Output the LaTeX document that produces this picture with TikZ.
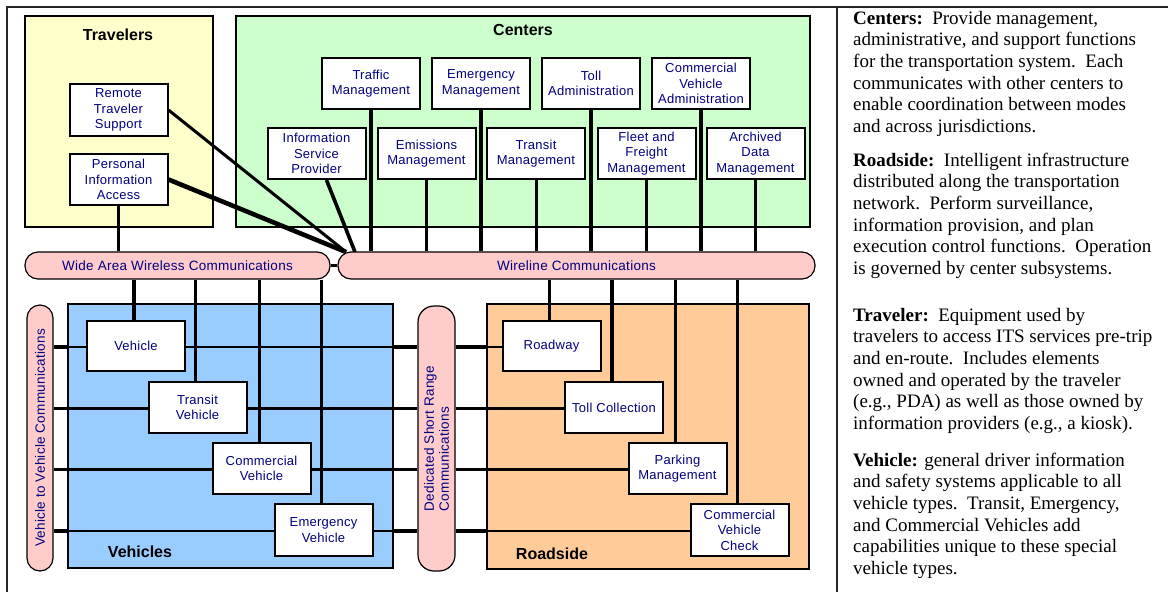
\documentclass[tikz,border=0pt]{standalone}
\usepackage{fontspec}
\setmainfont{Liberation Serif}
\newfontfamily\labf[LetterSpace=2]{Liberation Sans}
\newfontfamily\titf{Liberation Sans}
\usetikzlibrary{calc}
\definecolor{navy}{HTML}{000080}
\definecolor{travfill}{HTML}{FFFFCC}
\definecolor{centfill}{HTML}{CCFFCC}
\definecolor{vehfill}{HTML}{99CCFF}
\definecolor{roadfill}{HTML}{FFCC99}
\definecolor{pillfill}{HTML}{FFCCCC}
\pgfdeclarelayer{back}
\pgfdeclarelayer{conn}
\pgfsetlayers{back,conn,main}
\tikzset{
  box/.style={draw=black,line width=2pt,fill=white,minimum width=98pt,minimum height=51pt,
    inner sep=0pt,align=center,text=navy,font=\labf\fontsize{13}{15.5}\selectfont},
  container/.style={draw=black,line width=2.5pt},
  title/.style={font=\titf\bfseries\fontsize{16}{18}\selectfont,text=black,inner sep=0pt},
  pill/.style={draw=black,line width=1.2pt,fill=pillfill,inner sep=0pt,text=navy,
    font=\labf\fontsize{13.5}{15}\selectfont,rounded corners=13pt},
  bigwire/.style={line width=3.6pt},
  midwire/.style={line width=3pt},
  thinwire/.style={line width=2.2pt},
  fatwire/.style={line width=4.6pt},
  panel/.style={inner sep=0pt,anchor=base west,text=black},
  frame/.style={line width=2pt,draw=black!85}
}
\newcommand{\paneltext}[1]{\vtop{\hsize=320pt\parindent=0pt\parskip=0pt\fontsize{19}{21.7}\selectfont\raggedright #1\par}}
\begin{document}
\begin{tikzpicture}[x=1pt,y=-1pt]
\useasboundingbox (0,0) rectangle (1168,592);
% frame
\draw[frame] (7,592) -- (7,7) -- (1168,7);
\draw[frame] (837,7) -- (837,592);

% containers
\begin{pgfonlayer}{back}
\node[container,fill=travfill,minimum width=188pt,minimum height=211pt] (trav) at (119,121.5) {};
\node[container,fill=centfill,minimum width=574pt,minimum height=211pt] (cent) at (523,121.5) {};
\node[container,fill=vehfill,minimum width=325pt,minimum height=264pt] (vehc) at (230.5,436) {};
\node[container,fill=roadfill,minimum width=322pt,minimum height=265pt] (roadc) at (648,436.5) {};
\end{pgfonlayer}
\node[title] (travt) at (118,35) {Travelers};
\node[title] (centt) at (523,30) {Centers};
\node[title] (veht) at (140,552) {Vehicles};
\node[title] (roadt) at (552,554) {Roadside};

% traveler boxes
\node[box,minimum height=52pt] (rts) at (118.5,110) {Remote\\Traveler\\Support};
\node[box] (pia) at (118.5,179.5) {Personal\\Information\\Access};
% center boxes
\node[box] (isp) at (316.5,153.5) {Information\\Service\\Provider};
\node[box] (tm) at (371,83.5) {Traffic\\Management};
\node[box] (emm) at (426.5,153.5) {Emissions\\Management};
\node[box] (em) at (481,83.5) {Emergency\\Management};
\node[box] (trm) at (536,153.5) {Transit\\Management};
\node[box] (ta) at (591,83.5) {Toll\\Administration};
\node[box] (ffm) at (646.5,153.5) {Fleet and\\Freight\\Management};
\node[box] (cva) at (701,83.5) {Commercial\\Vehicle\\Administration};
\node[box] (adm) at (755.5,153.5) {Archived\\Data\\Management};

% buses
\node[pill,minimum width=305pt,minimum height=27pt] (wa) at (177.5,265.5) {Wide Area Wireless Communications};
\node[pill,minimum width=477pt,minimum height=27pt] (wl) at (576.5,265.5) {Wireline Communications};
\node[pill,rotate=90,minimum width=266pt,minimum height=26pt] (v2v) at (40,438) {Vehicle to Vehicle Communications};
\node[pill,minimum width=265pt,minimum height=37pt,rounded corners=16pt,rotate=90,align=left] (dsrc) at (436.5,438.5) {Dedicated Short Range\\Communications};

\coordinate (hubA) at (346,252);
\coordinate (hubB) at (355,252);

% vehicle and roadside boxes
\node[box,minimum height=50pt] (veh) at (136,346) {Vehicle};
\node[box] (tv) at (197.5,407.5) {Transit\\Vehicle};
\node[box] (cv) at (261.5,468.5) {Commercial\\Vehicle};
\node[box,minimum height=52pt] (ev) at (323.5,530) {Emergency\\Vehicle};
\node[box,minimum height=50pt] (rw) at (551.5,346) {Roadway};
\node[box] (tc) at (614,407.5) {Toll Collection};
\node[box] (pm) at (677.5,468.5) {Parking\\Management};
\node[box,minimum height=52pt] (cvc) at (739.5,530) {Commercial\\Vehicle\\Check};

% connectors
\begin{pgfonlayer}{conn}
% travelers
\draw[midwire] (pia.south) -- (pia.south |- wa.north);
\draw[midwire] (rts.east) -- (hubA);
\draw[fatwire] (pia.east) -- (hubA);
\draw[bigwire] ($(isp.south)+(10,0)$) -- (hubB);
% centers to wireline
\foreach \n in {tm,em,ta,cva}{\draw[bigwire] (\n.south) -- (\n.south |- wl.north);}
\foreach \n in {emm,trm,ffm,adm}{\draw[midwire] (\n.south) -- (\n.south |- wl.north);}
\draw[midwire] (wa.east) -- (wl.west);
% wide area to vehicles
\foreach \n in {veh,tv,cv,ev}{
  \coordinate (top-\n) at ($(\n.north)+(-2,0)$);
  \draw[bigwire] (top-\n) -- (top-\n |- wa.south);}
% wireline to roadside
\foreach \n in {rw,tc,pm,cvc}{
  \coordinate (top-\n) at ($(\n.north)+(-2,0)$);
  \draw[bigwire] (top-\n) -- (top-\n |- wl.south);}
% vehicle to vehicle / DSRC rows
\foreach \n/\r in {veh/rw,tv/tc,cv/pm,ev/cvc}{
  \draw[thinwire] ($(v2v.south |- \n)+(0,1)$) -- ($(dsrc.north |- \n)+(0,1)$);
  \draw[bigwire] ($(v2v.south |- \n)+(0,1)$) -- ($(vehc.west |- \n)+(0,1)$);
  \draw[bigwire] ($(vehc.east |- \n)+(0,1)$) -- ($(dsrc.north |- \n)+(0,1)$);
  \draw[thinwire] ($(dsrc.south |- \r)+(0,1)$) -- ($(\r.west)+(0,1)$);
  \draw[bigwire] ($(dsrc.south |- \r)+(0,1)$) -- ($(roadc.west |- \r)+(0,1)$);
}
\end{pgfonlayer}

% description panel
\node[panel] (pc) at (853,24) {\paneltext{\textbf{Centers:}\ \ Provide management,\\
administrative, and support functions\\
for the transportation system.\ \ Each\\
communicates with other centers to\\
enable coordination between modes\\
and across jurisdictions.}};
\node[panel] (pr) at (853,166) {\paneltext{\textbf{Roadside:}\ \ Intelligent infrastructure\\
distributed along the transportation\\
network.\ \ Perform surveillance,\\
information provision, and plan\\
execution control functions.\ \ Operation\\
is governed by center subsystems.}};
\node[panel] (pt) at (853,321) {\paneltext{\textbf{Traveler:}\ \ Equipment used by\\
travelers to access ITS services pre-trip\\
and en-route.\ \ Includes elements\\
owned and operated by the traveler\\
(e.g., PDA) as well as those owned by\\
information providers (e.g., a kiosk).}};
\node[panel] (pv) at (853,466) {\paneltext{\textbf{Vehicle:} general driver information\\
and safety systems applicable to all\\
vehicle types.\ \ Transit, Emergency,\\
and Commercial Vehicles add\\
capabilities unique to these special\\
vehicle types.}};
\end{tikzpicture}
\end{document}
